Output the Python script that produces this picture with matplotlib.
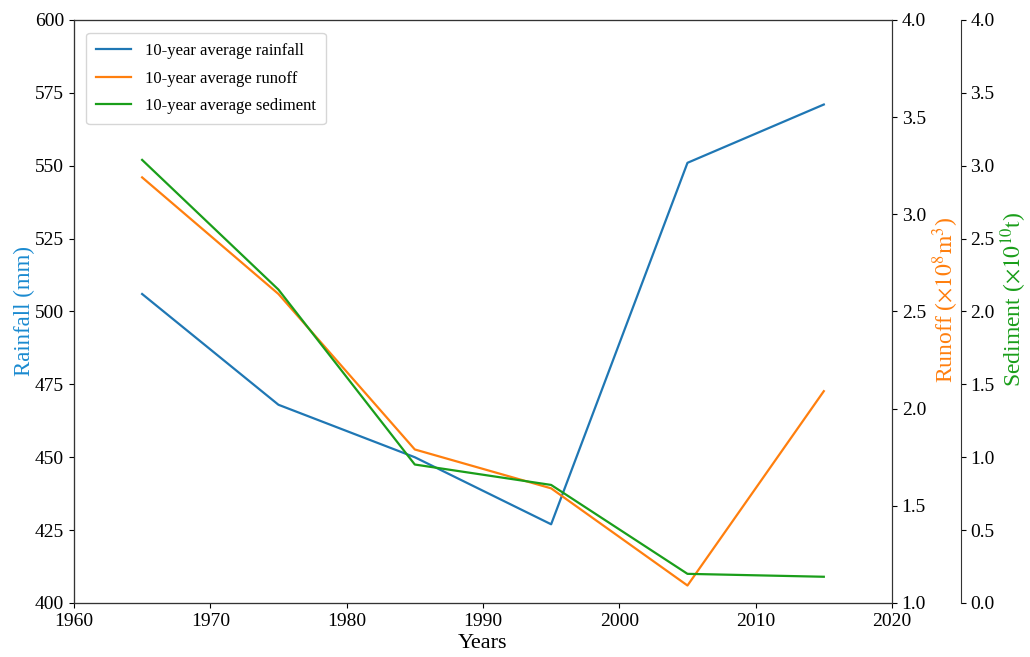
import matplotlib
matplotlib.use("Agg")
import matplotlib.pyplot as plt

plt.rcParams["font.family"] = ["Liberation Serif", "DejaVu Serif"]
plt.rcParams["mathtext.fontset"] = "stix"

years = [1965, 1975, 1985, 1995, 2005, 2015]
rainfall = [506, 468, 450, 427, 551, 571]
runoff = [3.19, 2.59, 1.79, 1.59, 1.09, 2.09]
sediment = [3.04, 2.15, 0.95, 0.81, 0.20, 0.18]

C_RAIN = "#1f77b4"
C_RUN = "#ff7f0e"
C_SED = "#1a9e1a"

fig = plt.figure(figsize=(10.3, 6.57), dpi=100)
ax = fig.add_axes([0.0718, 0.0822, 0.7942, 0.8874])
ax2 = ax.twinx()
ax3 = ax.twinx()
ax3.spines["right"].set_position(("axes", 1.084))

l1, = ax.plot(years, rainfall, color=C_RAIN, lw=1.6, label="10-year average rainfall")
l2, = ax2.plot(years, runoff, color=C_RUN, lw=1.6, label="10-year average runoff")
l3, = ax3.plot(years, sediment, color=C_SED, lw=1.6, label="10-year average sediment")

ax.set_xlim(1960, 2020)
ax.set_ylim(400, 600)
ax2.set_ylim(1.0, 4.0)
ax3.set_ylim(0.0, 4.0)
ax.set_xticks(range(1960, 2021, 10))
ax.set_yticks(range(400, 601, 25))
ax2.set_yticks([1.0, 1.5, 2.0, 2.5, 3.0, 3.5, 4.0])
ax3.set_yticks([0.0, 0.5, 1.0, 1.5, 2.0, 2.5, 3.0, 3.5, 4.0])

for a in (ax, ax2, ax3):
    a.tick_params(labelsize=14)
    for s in a.spines.values():
        s.set_color("#333333")

ax.set_xlabel("Years", fontsize=16, labelpad=3)
ax.set_ylabel("Rainfall (mm)", fontsize=16.5, color="#1a8ad0", labelpad=0)
ax2.set_ylabel(r"Runoff ($\times 10^8 \mathrm{m}^3$)", fontsize=17, color=C_RUN, labelpad=3)
ax3.set_ylabel(r"Sediment ($\times 10^{10} \mathrm{t}$)", fontsize=17, color=C_SED, labelpad=3)
ax2.yaxis.label.set_y(0.52)
ax3.yaxis.label.set_y(0.52)

ax.legend(handles=[l1, l2, l3], loc="upper left", fontsize=12,
          bbox_to_anchor=(0.005, 0.992), handlelength=2.1, borderpad=0.6,
          labelspacing=0.7)

fig.savefig("out.png", dpi=100)
